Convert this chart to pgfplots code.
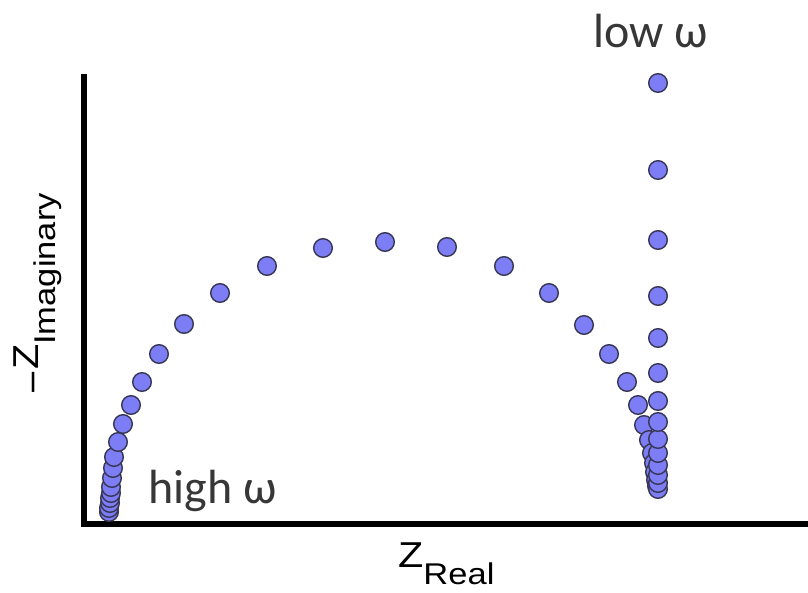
\documentclass[border=0pt]{standalone}
\usepackage{fontspec}
\setmainfont{Liberation Sans}
\newfontfamily\calfont{Carlito}
\usepackage{pgfplots}
\pgfplotsset{compat=1.18}
\definecolor{ptfill}{RGB}{125,125,245}
\definecolor{ptedge}{RGB}{55,55,85}
\definecolor{textgray}{RGB}{55,55,55}
\begin{document}
\begin{tikzpicture}
\begin{axis}[
  x=1pt, y=1pt,
  xmin=84, xmax=808, ymin=68, ymax=515,
  at={(84pt,68pt)}, anchor=south west,
  axis lines*=left,
  axis line style={line width=5.5pt, line cap=rect, black},
  xtick=\empty, ytick=\empty,
  clip=false,
]
\addplot[only marks, mark=*, mark size=9.3pt,
  mark options={fill=ptfill, draw=ptedge, line width=1.4pt}] table {
x y
109 80
109 84
110 89
110 94
111 99
111 105
112 114
113 124
114 135
118 150
123 168
131 187
142 210
159 238
184 268
220 299
267 326
323 344
385 350
447 345
504 326
549 299
584 267
609 238
627 210
638 187
644 167
649 152
652 139
654 129
655 120
656 112
657 106
658 103
658 109
658 117
658 127
658 139
658 153
658 170
658 191
658 219
658 254
658 296
658 352
658 422
658 509
};
\node[anchor=base west, text=textgray, font=\calfont\fontsize{48}{48}\selectfont, inner sep=0pt] at (axis cs:148,89) {high ω};
\node[anchor=base west, text=textgray, font=\calfont\fontsize{48}{48}\selectfont, inner sep=0pt] at (axis cs:593,544) {low ω};
\node[anchor=base west, inner sep=0pt] at (axis cs:398,25) {\scalebox{1.15}[1]{\fontsize{36}{36}\selectfont Z\raisebox{-17pt}{\fontsize{30}{30}\selectfont Real}}};
\node[anchor=base east, rotate=90, inner sep=0pt] at (axis cs:38,399) {\scalebox{1.15}[1]{\fontsize{36}{36}\selectfont\raisebox{-8pt}{−}Z\raisebox{-18pt}{\fontsize{30}{30}\selectfont Imaginary}}};
\end{axis}
\pgfresetboundingbox
\path (0,0) rectangle (808pt,592pt);
\end{tikzpicture}
\end{document}
